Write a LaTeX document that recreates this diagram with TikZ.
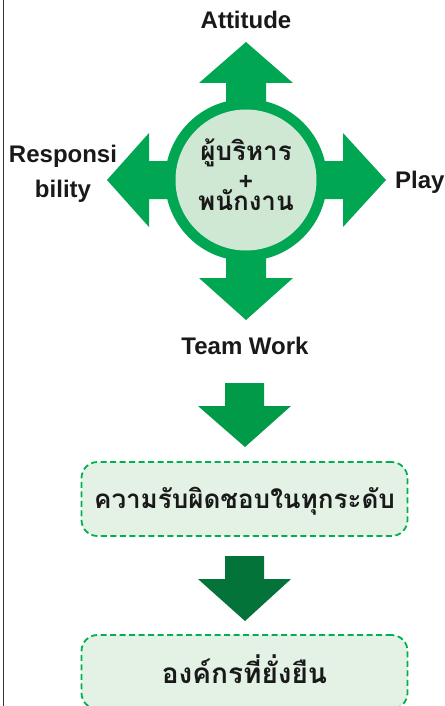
\documentclass[tikz,border=0pt]{standalone}
\usepackage{fontspec}
\setmainfont{Liberation Sans}
\newfontfamily\thai[Script=Thai]{Loma}
\definecolor{gmain}{HTML}{00A651}
\definecolor{gdown}{HTML}{009A49}
\definecolor{gdark}{HTML}{04733A}
\definecolor{gin}{HTML}{CFE8D4}
\definecolor{gbox}{HTML}{E3F2E5}
\definecolor{gdash}{HTML}{00B050}
\tikzset{
  lbl/.style={font=\fontsize{24}{26}\selectfont\bfseries, text=black!90, inner sep=0pt, anchor=base},
  thaitxt/.style={font=\thai\fontsize{26}{24}\selectfont\bfseries, text=black!90, inner sep=0pt, anchor=base},
  dbox/.style={draw=gdash, fill=gbox, dashed, dash pattern=on 6pt off 3.5pt, line width=1.8pt, rounded corners=16pt, minimum width=326pt, minimum height=74pt, inner sep=0pt},
}
\begin{document}
\begin{tikzpicture}[x=1pt,y=-1pt]
\useasboundingbox (0,0) rectangle (444,706);
\clip (0,0) rectangle (444,706);
\fill[white] (0,0) rectangle (444,706);
\draw[black!80, line width=1.3pt] (3.5,-2) coordinate (lt) -- (3.5,710) coordinate (lb);
% cross arrows
\fill[gmain] (226,180) -- (226,83) -- (199,83) -- (246,42) -- (293,83) -- (266,83) -- (266,180) -- cycle;
\fill[gmain] (226,180) -- (226,278) -- (199,278) -- (246,320) -- (293,278) -- (266,278) -- (266,180) -- cycle;
\fill[gmain] (246,161) -- (149,161) -- (149,133) -- (107,180) -- (149,227) -- (149,199) -- (246,199) -- cycle;
\fill[gmain] (246,161) -- (343,161) -- (343,133) -- (386,180) -- (343,227) -- (343,199) -- (246,199) -- cycle;
\node[circle, fill=gmain, minimum size=162pt, inner sep=0pt] (outer) at (246,180) {};
\node[circle, fill=gin, minimum size=141pt, inner sep=0pt] (inner) at (246,180) {};
\node[thaitxt] (core1) at (246,160) {ผู้บริหาร};
\node[font=\fontsize{24}{24}\selectfont\bfseries, text=black!90, inner sep=0pt] (plus) at (246,182) {+};
\node[thaitxt] (core2) at (246,210) {พนักงาน};
% labels
\node[lbl] (att) at (246,29) {Attitude};
\node[lbl] (resp1) at (63,162) {Responsi};
\node[lbl] (resp2) at (63,197) {bility};
\node[lbl, anchor=base west] (play) at (395,188) {Play};
\node[lbl] (team) at (245,354) {Team Work};
% down arrows
\fill[gdown] (225,383) -- (264,383) -- (264,406) -- (291,406) -- (245,447) -- (198,406) -- (225,406) -- cycle;
\node[dbox] (box1) at (244.5,499) {};
\node[thaitxt] (t1) at (244.5,508) {ความรับผิดชอบในทุกระดับ};
\fill[gdark] (225,556) -- (264,556) -- (264,579) -- (291,579) -- (245,621) -- (198,579) -- (225,579) -- cycle;
\node[dbox] (box2) at (244.5,672) {};
\node[thaitxt, font=\thai\fontsize{28}{24}\selectfont\bfseries] (t2) at (244.5,683) {องค์กรที่ยั่งยืน};
\end{tikzpicture}
\end{document}
